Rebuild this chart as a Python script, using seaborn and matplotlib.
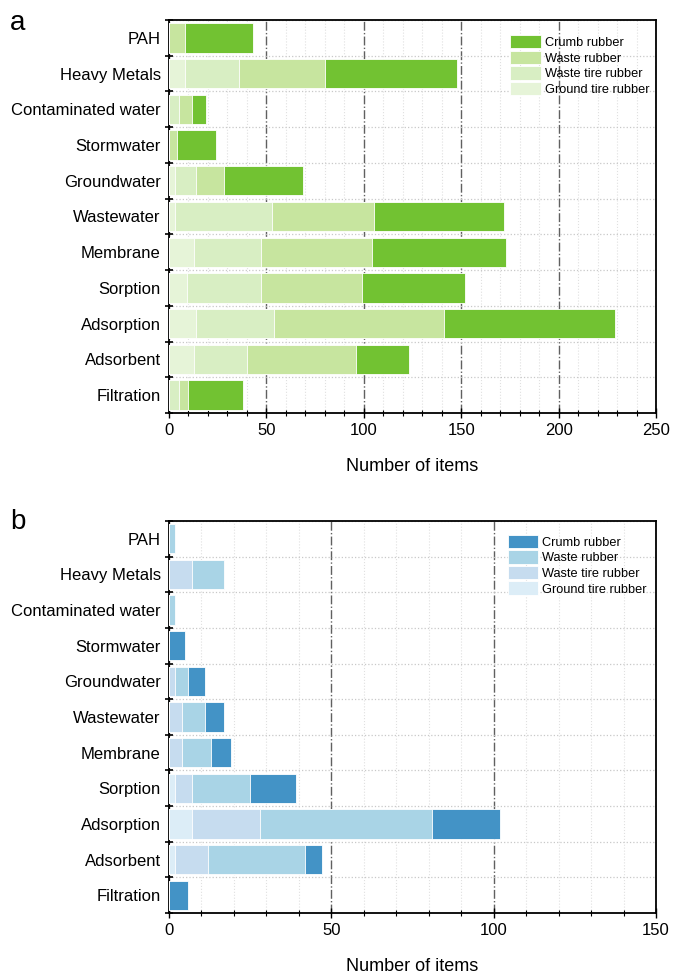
import numpy as np
import pandas as pd
import matplotlib
matplotlib.use("Agg")
import matplotlib.pyplot as plt
from matplotlib.ticker import MultipleLocator, FixedLocator, NullFormatter
import seaborn as sns

categories = ["PAH", "Heavy Metals", "Contaminated water", "Stormwater", "Groundwater",
              "Wastewater", "Membrane", "Sorption", "Adsorption", "Adsorbent", "Filtration"]
series_names = ["Ground tire rubber", "Waste tire rubber", "Waste rubber", "Crumb rubber"]

# Panel a (green)
a_ground = [0, 8, 0, 0, 3, 3, 13, 9, 14, 13, 0]
a_wastetire = [0, 28, 5, 0, 11, 50, 34, 38, 40, 27, 5]
a_waste = [8, 44, 7, 4, 14, 52, 57, 52, 87, 56, 5]
a_crumb = [35, 68, 7, 20, 41, 67, 69, 53, 88, 27, 28]

# Panel b (blue)
b_ground = [0, 0, 0, 0, 0, 0, 0, 2, 7, 2, 0]
b_wastetire = [0, 7, 0, 0, 2, 4, 4, 5, 21, 10, 0]
b_waste = [2, 10, 2, 0, 4, 7, 9, 18, 53, 30, 0]
b_crumb = [0, 0, 0, 5, 5, 6, 6, 14, 21, 5, 6]

green = ["#e6f4d8", "#d8eec3", "#c7e59f", "#72c232"]
blue = ["#dcedf7", "#c6dcef", "#a9d4e6", "#4393c6"]

sns.set_theme(style="white")
plt.rcParams["font.family"] = ["Liberation Sans", "DejaVu Sans"]
plt.rcParams["text.color"] = "black"
plt.rcParams["axes.labelcolor"] = "black"
plt.rcParams["xtick.color"] = "black"
plt.rcParams["ytick.color"] = "black"

fig = plt.figure(figsize=(6.73, 9.75), dpi=100)
W, H = 673, 975
ax_a = fig.add_axes([169 / W, 1 - 413 / H, 487 / W, 393 / H])
ax_b = fig.add_axes([169 / W, 1 - 913 / H, 487 / W, 392 / H])


def draw(ax, comps, colors, xmax, legend_anchor):
    arr = np.array(comps, dtype=float)
    cum = np.cumsum(arr, axis=0)
    for k in range(3, -1, -1):
        df = pd.DataFrame({"cat": categories, "val": cum[k]})
        sns.barplot(data=df, x="val", y="cat", orient="h", ax=ax, color=colors[k],
                    saturation=1, width=0.82, edgecolor="white", linewidth=0.6,
                    label=series_names[k], zorder=3)
    ax.set_xlim(0, xmax)
    ax.set_ylim(10.5, -0.5)
    ax.set_ylabel("")
    ax.set_xlabel("Number of items", fontsize=13, labelpad=14, color="black")
    ax.xaxis.set_major_locator(MultipleLocator(50))
    ax.xaxis.set_minor_locator(MultipleLocator(10))
    ax.yaxis.set_minor_locator(FixedLocator(np.arange(-0.5, 11, 1.0)))
    ax.yaxis.set_minor_formatter(NullFormatter())
    ax.tick_params(axis="y", which="major", length=0, labelsize=12, pad=6, labelcolor="black")
    ax.tick_params(axis="y", which="minor", direction="inout", length=6, width=1.2, color="black", left=True)
    ax.tick_params(axis="x", which="major", direction="inout", length=7, width=1.0, labelsize=12,
                   bottom=True, color="black", labelcolor="black", pad=4)
    ax.tick_params(axis="x", which="minor", direction="inout", length=4, width=0.8, bottom=True, color="black")
    ax.grid(True, axis="x", which="major", linestyle="-.", color="#606060", linewidth=1.0, zorder=0)
    ax.grid(True, axis="x", which="minor", linestyle=":", color="#e0e0e0", linewidth=0.8, zorder=0)
    ax.grid(True, axis="y", which="minor", linestyle=":", color="#c8c8c8", linewidth=0.9, zorder=0)
    ax.set_axisbelow(True)
    for s in ax.spines.values():
        s.set_visible(True)
        s.set_color("black")
        s.set_linewidth(1.3)
    leg = ax.legend(loc="upper left", bbox_to_anchor=legend_anchor, frameon=False,
                    fontsize=9.2, handlelength=2.4, handleheight=1.25, labelspacing=0.12,
                    handletextpad=0.3, borderaxespad=0)
    for t in leg.get_texts():
        t.set_color("black")
    for h in leg.legend_handles:
        h.set_edgecolor("white")


draw(ax_a, [a_ground, a_wastetire, a_waste, a_crumb], green, 250, (0.69, 0.975))
draw(ax_b, [b_ground, b_wastetire, b_waste, b_crumb], blue, 150, (0.685, 0.978))

fig.text(10 / W, 1 - 23 / H, "a", fontsize=20, va="center", ha="left", color="black")
fig.text(10 / W, 1 - 522 / H, "b", fontsize=20, va="center", ha="left", color="black")

fig.savefig("out.png", dpi=100)
